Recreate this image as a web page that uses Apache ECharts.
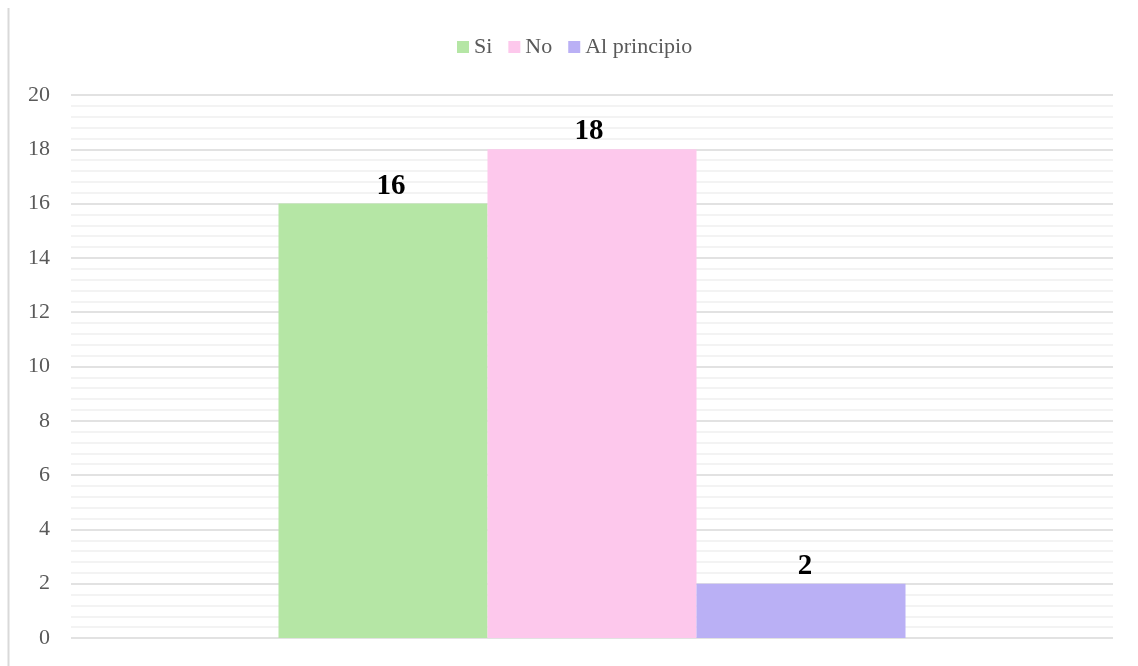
<!DOCTYPE html>
<html>
<head>
<meta charset="utf-8">
<script src="https://cdn.jsdelivr.net/npm/echarts@6/dist/echarts.min.js"></script>
<style>
  html, body { margin: 0; padding: 0; background: #fff; }
  #chart { width: 1138px; height: 666px; }
</style>
</head>
<body>
<div id="chart"></div>
<script>
// datos
const categories = [''];
const seriesNames = ['Si', 'No', 'Al principio'];
const siValues = [16];
const noValues = [18];
const principioValues = [2];
const colors = ['#b5e6a5', '#fdc8ec', '#bab0f5'];

const chart = echarts.init(document.getElementById('chart'));
const serif = '"Liberation Serif", "Times New Roman", serif';

function barSeries(name, data, color, dx) {
    return {
        name: name,
        type: 'bar',
        data: data,
        barWidth: 209,
        barGap: '0%',
        itemStyle: { color: color },
        label: {
            show: true,
            position: 'top',
            distance: 3,
            offset: [dx, 0],
            color: '#000',
            fontFamily: serif,
            fontWeight: 'bold',
            fontSize: 29
        }
    };
}

chart.setOption({
    animation: false,
    color: colors,
    textStyle: { fontFamily: serif },
    graphic: [{
        type: 'line',
        shape: { x1: 8.5, y1: 8, x2: 8.5, y2: 666 },
        style: { stroke: '#d9d9d9', lineWidth: 2 }
    }],
    legend: {
        top: 31,
        left: 452,
        itemWidth: 12,
        itemHeight: 12,
        itemGap: 16,
        icon: 'rect',
        textStyle: { fontFamily: serif, fontSize: 22, color: '#595959' },
        data: seriesNames
    },
    grid: { left: 71, right: 25, top: 95, bottom: 28, containLabel: false },
    xAxis: {
        type: 'category',
        data: categories,
        axisLine: { show: false },
        axisTick: { show: false },
        axisLabel: { show: false }
    },
    yAxis: {
        type: 'value',
        min: 0,
        max: 20,
        interval: 2,
        axisLine: { show: false },
        axisTick: { show: false },
        axisLabel: { fontFamily: serif, fontSize: 22, color: '#595959', margin: 21 },
        splitLine: { lineStyle: { color: '#d9d9d9', width: 1.5 } },
        minorTick: { show: false, splitNumber: 5 },
        minorSplitLine: { show: true, lineStyle: { color: '#f0f0f0', width: 1.5 } }
    },
    series: [
        barSeries(seriesNames[0], siValues, colors[0], 8),
        barSeries(seriesNames[1], noValues, colors[1], -3),
        barSeries(seriesNames[2], principioValues, colors[2], 4)
    ]
});
</script>
</body>
</html>
